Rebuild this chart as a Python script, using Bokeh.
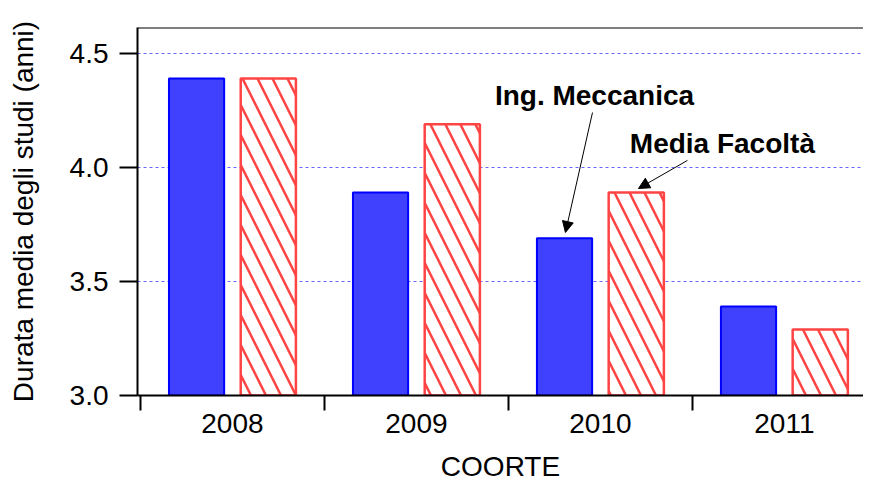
from bokeh.plotting import figure
from bokeh.models import (ColumnDataSource, FixedTicker, Range1d, Arrow, NormalHead,
                          Label, Span)
from bokeh.transform import dodge
from bokeh.embed import file_html
from bokeh.resources import INLINE

# ---- data ----
cohorts = ["2008", "2009", "2010", "2011"]
ing_meccanica = [4.39, 3.89, 3.69, 3.39]
media_facolta = [4.39, 4.19, 3.89, 3.29]
y_ticks = [3.0, 3.5, 4.0, 4.5]

FONT = "Liberation Sans"
pos = list(range(len(cohorts)))
src = ColumnDataSource(dict(x=pos, ing=ing_meccanica, med=media_facolta))

p = figure(width=863, height=484, output_backend="svg", toolbar_location=None,
           x_range=Range1d(-0.516, 3.430), y_range=Range1d(3.0, 4.614),
           min_border_left=137, min_border_right=0, min_border_top=27,
           min_border_bottom=89)
p.outline_line_color = None
p.background_fill_color = "white"
p.border_fill_color = "white"

OFF = 0.195
W = 0.30
p.vbar(x=dodge("x", -OFF), top="ing", bottom=3.0, width=W, source=src,
       fill_color="#4040FF", line_color="#0000FF", line_width=2)
p.vbar(x=dodge("x", OFF), top="med", bottom=3.0, width=W, source=src,
       fill_color="white", line_color="#FF4444", line_width=2.5,
       hatch_pattern="left_diagonal_line", hatch_color="#FF4444",
       hatch_weight=2.5, hatch_scale=30)

# top frame line
p.add_layout(Span(location=4.614, dimension="width", line_color="black", line_width=2))

# x axis
xa = p.xaxis[0]
xa.ticker = FixedTicker(ticks=pos, minor_ticks=[i - 0.5 for i in pos])
xa.major_label_overrides = {i: c for i, c in zip(pos, cohorts)}
xa.major_tick_out = 0
xa.major_tick_in = 0
xa.minor_tick_out = 15
xa.minor_tick_in = 0
xa.minor_tick_line_width = 2
xa.minor_tick_line_color = "black"
xa.axis_line_width = 2
xa.axis_line_color = "black"
xa.major_label_text_font = FONT
xa.major_label_text_font_size = "28px"
xa.major_label_text_color = "black"
xa.major_label_standoff = 3
xa.axis_label = "COORTE"
xa.axis_label_text_font = FONT
xa.axis_label_text_font_size = "28px"
xa.axis_label_text_font_style = "normal"
xa.axis_label_text_color = "black"
xa.axis_label_standoff = 15

# y axis
ya = p.yaxis[0]
ya.ticker = FixedTicker(ticks=y_ticks)
ya.major_label_overrides = {t: f"{t:.1f}" for t in y_ticks}
ya.major_tick_out = 18
ya.major_tick_in = 0
ya.major_tick_line_width = 2
ya.major_tick_line_color = "black"
ya.minor_tick_line_color = None
ya.axis_line_width = 2
ya.axis_line_color = "black"
ya.major_label_text_font = FONT
ya.major_label_text_font_size = "28px"
ya.major_label_text_color = "black"
ya.major_label_standoff = 11
ya.axis_label = "Durata media degli studi (anni)"
ya.axis_label_text_font = FONT
ya.axis_label_text_font_size = "28px"
ya.axis_label_text_font_style = "normal"
ya.axis_label_text_color = "black"
ya.axis_label_standoff = 28

p.xgrid.grid_line_color = None
p.ygrid.grid_line_color = "#6666FF"
p.ygrid.grid_line_dash = "3 3"
p.ygrid.grid_line_width = 1

# annotations
p.add_layout(Label(x=1.968, y=4.316, text="Ing. Meccanica", text_align="center",
                   text_baseline="middle", text_font=FONT, text_font_size="28px",
                   text_font_style="bold", text_color="black"))
p.add_layout(Label(x=2.663, y=4.105, text="Media Facoltà", text_align="center",
                   text_baseline="middle", text_font=FONT, text_font_size="28px",
                   text_font_style="bold", text_color="black"))
p.add_layout(Arrow(x_start=1.957, y_start=4.241, x_end=1.810, y_end=3.715,
                   line_color="black", line_width=1,
                   end=NormalHead(size=11, fill_color="black", line_color="black")))
p.add_layout(Arrow(x_start=2.473, y_start=4.031, x_end=2.207, y_end=3.908,
                   line_color="black", line_width=1,
                   end=NormalHead(size=11, fill_color="black", line_color="black")))

open("out.html", "w").write(file_html(p, INLINE))
